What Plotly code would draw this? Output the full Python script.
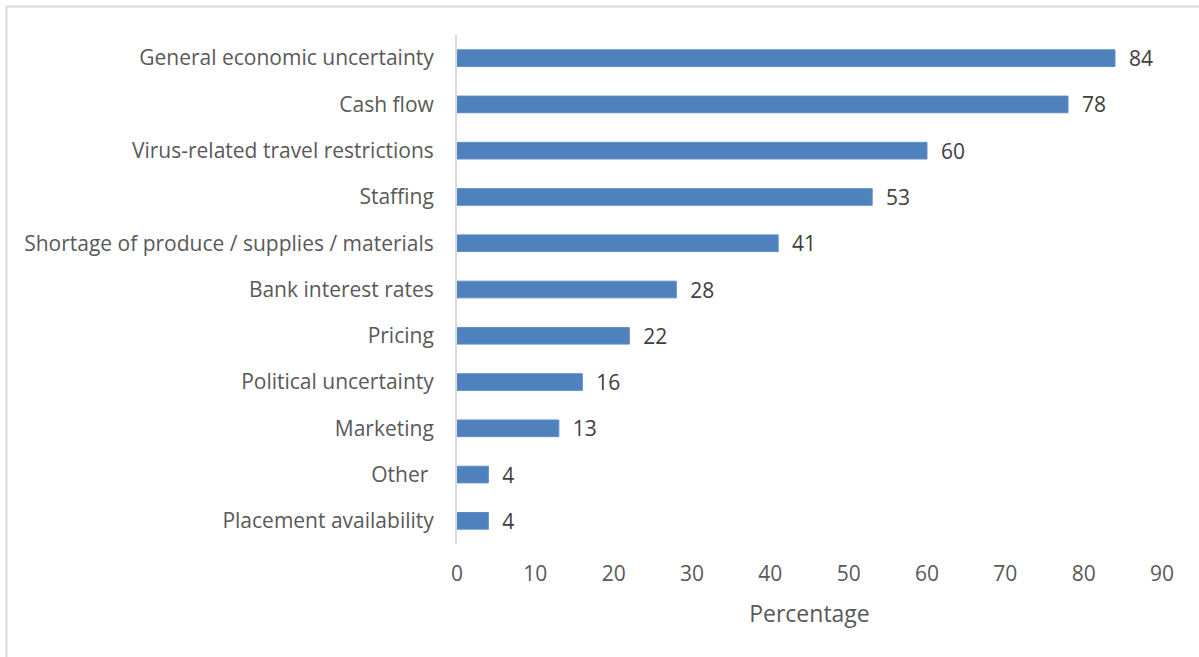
import plotly.graph_objects as go

# Reasons reported, listed top to bottom as shown
categories = [
    "General economic uncertainty",
    "Cash flow",
    "Virus-related travel restrictions",
    "Staffing",
    "Shortage of produce / supplies / materials",
    "Bank interest rates",
    "Pricing",
    "Political uncertainty",
    "Marketing",
    "Other ",
    "Placement availability",
]
percentages = [84, 78, 60, 53, 41, 28, 22, 16, 13, 4, 4]

x_ticks = list(range(0, 100, 10))

W, H = 1199, 657
m_l, m_r, m_t, m_b = 457, 37, 35, 113
plot_w = W - m_l - m_r
plot_h = H - m_t - m_b

FONT = "Open Sans"
TICK_COLOR = "#595959"
LABEL_COLOR = "#404040"
BAR_COLOR = "#4F81BD"
FS = 21

fig = go.Figure(
    go.Bar(
        y=categories[::-1],
        x=percentages[::-1],
        orientation="h",
        width=0.36,
        marker=dict(color=BAR_COLOR, line=dict(color="#5B8DC8", width=1)),
        texttemplate="  %{x}",
        textposition="outside",
        constraintext="none",
        textfont=dict(family=FONT, size=FS, color=LABEL_COLOR),
        cliponaxis=False,
        hoverinfo="skip",
    )
)

# Light grey frame around the chart area
def px_to_paper_x(px):
    return (px - m_l) / plot_w

def px_to_paper_y(py):
    return (H - m_b - py) / plot_h

fig.add_shape(
    type="rect",
    xref="paper", yref="paper",
    x0=px_to_paper_x(6.5), x1=px_to_paper_x(W + 10),
    y0=px_to_paper_y(H + 10), y1=px_to_paper_y(6.5),
    line=dict(color="#D9D9D9", width=2),
    fillcolor="rgba(0,0,0,0)",
    layer="below",
)

fig.update_layout(
    width=W,
    height=H,
    margin=dict(l=m_l, r=m_r, t=m_t, b=m_b),
    paper_bgcolor="white",
    plot_bgcolor="white",
    showlegend=False,
    font=dict(family=FONT, size=FS, color=TICK_COLOR),
    xaxis=dict(
        range=[0, 90],
        tickvals=x_ticks,
        showgrid=False,
        zeroline=False,
        showline=False,
        ticks="",
        ticklabelstandoff=15,
        tickfont=dict(family=FONT, size=FS, color=TICK_COLOR),
        title=dict(text="Percentage", font=dict(family=FONT, size=23, color=TICK_COLOR), standoff=19),
    ),
    yaxis=dict(
        showgrid=False,
        zeroline=False,
        showline=True,
        linecolor="#D9D9D9",
        linewidth=2,
        ticks="",
        ticklabelstandoff=17,
        tickfont=dict(family=FONT, size=FS, color=TICK_COLOR),
    ),
)

fig.write_html("out.html")
